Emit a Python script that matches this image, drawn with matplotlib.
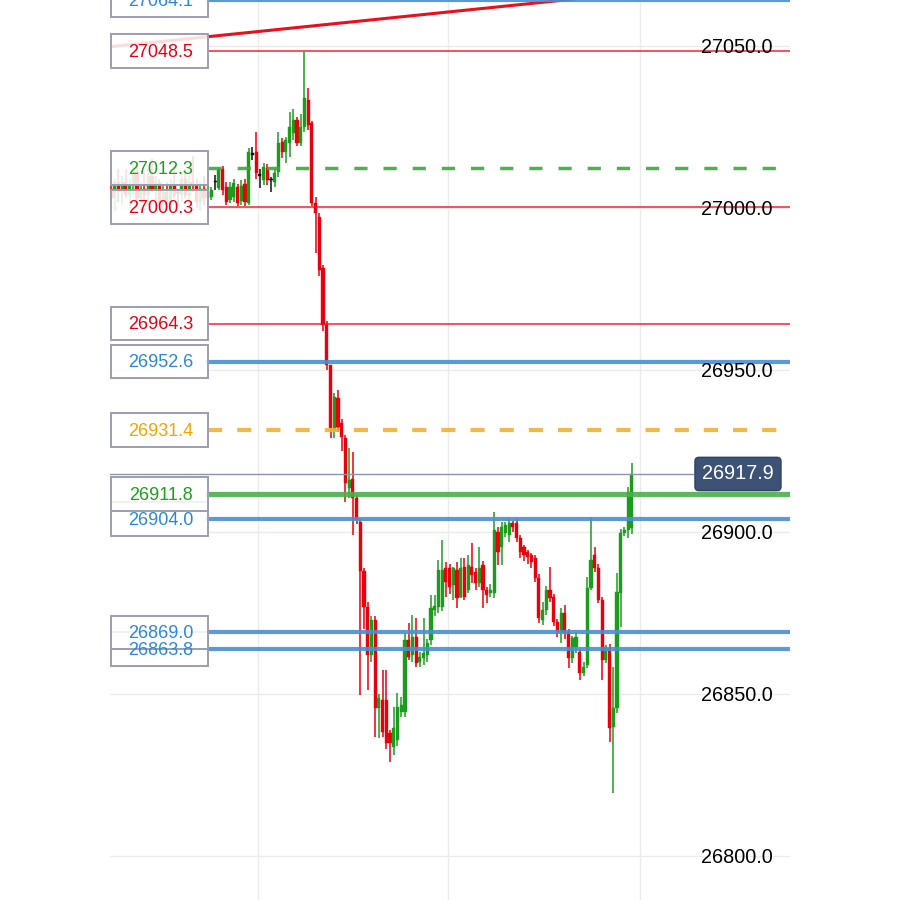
import matplotlib
matplotlib.use('Agg')
import matplotlib.pyplot as plt
from matplotlib.patches import Rectangle

plt.rcParams['font.family'] = ['Liberation Sans', 'DejaVu Sans']

# candles, oldest first
opens = [27006, 27003, 27008,
         27005, 27008, 27004, 27007, 27011, 27003, 27006, 27004, 27010, 27006, 27008, 27002,
         27005, 27001, 27007, 27004.5, 27004, 27009, 27004, 27008, 27007, 27002, 27006, 27003,
         27003.4, 27008.0, 27006.2, 27012.0, 27006.5, 27002.5, 27003.4, 27006.5, 27002.2, 27007.4,
         27001.6, 27016.5, 27017.3, 27010.0, 27008.6, 27012.4, 27008.5, 27008.0, 27011.1, 27020.4,
         27017.3, 27020.1, 27023.2, 27027.2, 27020.1, 27025.0, 27033.3, 27026.2, 27001.6, 26997.2,
         26981.5, 26964.0, 26951.6, 26931.5, 26941.4, 26933.7, 26929.0, 26913.6, 26916.4, 26910.5,
         26903.1, 26888.0,
         26876.9, 26862.1, 26872.9, 26845.7, 26848.2, 26848.2, 26838.0, 26833.7, 26835.8, 26844.5,
         26844.5, 26866.7, 26862.1, 26867.6, 26859.9, 26861.1, 26862.1, 26866.7, 26876.0,
         26876.9, 26876.9, 26888.9, 26888.9, 26883.7, 26888.3, 26880.0, 26889.2, 26882.1, 26889.2,
         26887.7, 26884.3, 26889.8, 26882.1, 26881.2, 26881.2, 26900.0, 26895.4, 26899.7, 26899.1,
         26902.8, 26902.8, 26898.2, 26895.4, 26893.8, 26892.9, 26892.0, 26885.8, 26872.9,
         26876.0, 26882.1, 26879.9, 26872.3, 26869.2, 26875.0, 26869.2, 26861.1, 26864.5, 26863.0,
         26856.5, 26859.0, 26882.7, 26892.9, 26888.9, 26879.0, 26860.5, 26864.2, 26839.8, 26845.7,
         26881.2, 26899.7, 26900.6, 26901.3]
highs = [27011, 27009, 27012,
         27010, 27012, 27009, 27014, 27013, 27008, 27011, 27012, 27015, 27010, 27009, 27007,
         27008, 27009, 27013, 27006, 27011, 27012, 27010, 27016, 27009, 27008, 27010, 27007,
         27006.5, 27010.2, 27012.4, 27013.0, 27008.0, 27008.0, 27009.0, 27007.5, 27008.5, 27009.0,
         27018.5, 27018.8, 27023.5, 27012.0, 27014.0, 27013.5, 27009.5, 27012.0, 27023.5, 27021.5,
         27022.0, 27029.6, 27030.5, 27028.0, 27029.0, 27048.2, 27037.0, 27027.0, 27003.4, 26998.5,
         26982.5, 26965.0, 26951.6, 26942.9, 26943.8, 26935.0, 26930.0, 26926.0, 26924.7, 26911.5,
         26904.0, 26889.0,
         26878.4, 26874.0, 26874.0, 26850.0, 26857.4, 26857.4, 26839.0, 26846.0, 26850.3, 26849.0,
         26868.9, 26871.9, 26874.4, 26873.5, 26863.0, 26873.5, 26867.0, 26880.6, 26880.6,
         26891.4, 26897.6, 26890.8, 26890.0, 26889.2, 26890.8, 26892.0, 26892.0, 26892.9, 26896.6,
         26889.0, 26895.4, 26891.0, 26883.0, 26884.0, 26906.2, 26901.6, 26903.0, 26903.0, 26904.0,
         26903.5, 26904.0, 26899.0, 26896.0, 26894.5, 26893.5, 26893.0, 26887.0, 26878.4,
         26883.4, 26889.2, 26881.0, 26873.0, 26876.6, 26877.5, 26870.0, 26868.0, 26869.0, 26864.0,
         26860.0, 26886.1, 26904.7, 26895.4, 26890.0, 26880.0, 26865.2, 26865.5, 26858.4, 26887.4,
         26901.0, 26901.6, 26914.0, 26921.3]
lows = [27001, 26999, 27002,
        27001, 27003, 27000, 27004, 27002, 26999, 27002, 27001, 27005, 27002, 27001, 26998,
        27000, 26999, 27003, 27001, 27002, 27003, 27001, 27005, 27000, 26999, 27001, 26998,
        27002.5, 27005.6, 27005.6, 27004.0, 27000.8, 27001.5, 27002.0, 27000.5, 27001.0, 27000.5,
        27000.8, 27014.8, 27009.0, 27006.2, 27007.0, 27007.0, 27004.9, 27006.5, 27009.5, 27015.5,
        27014.0, 27015.8, 27021.0, 27019.0, 27019.0, 27023.5, 27024.0, 27000.5, 26986.1, 26979.0,
        26962.0, 26950.0, 26929.0, 26929.0, 26931.0, 26925.0, 26909.3, 26910.5, 26899.1, 26902.5,
        26849.7, 26870.0,
        26851.3, 26860.0, 26836.8, 26836.5, 26836.8, 26833.0, 26829.0, 26831.2, 26834.0, 26843.0,
        26843.0, 26860.5, 26860.0, 26858.4, 26858.4, 26859.0, 26860.0, 26865.0, 26874.0,
        26875.0, 26875.5, 26880.0, 26881.0, 26879.0, 26876.6, 26879.7, 26879.0, 26881.2, 26884.3,
        26882.0, 26883.0, 26876.6, 26878.0, 26880.0, 26879.5, 26889.8, 26889.8, 26898.5, 26896.9,
        26900.0, 26897.0, 26892.0, 26891.0, 26890.0, 26889.0, 26884.5, 26872.0, 26871.3,
        26874.5, 26878.5, 26871.0, 26867.6, 26865.8, 26867.0, 26858.1, 26859.6, 26862.5, 26854.4,
        26855.5, 26858.0, 26882.1, 26887.5, 26878.0, 26854.4, 26859.5, 26835.2, 26819.5, 26844.0,
        26870.7, 26898.8, 26898.0, 26899.5]
closes = [27003, 27008, 27005,
          27008, 27004, 27007, 27011, 27003, 27006, 27004, 27010, 27006, 27008, 27002, 27005,
          27001, 27007, 27004, 27004.5, 27009, 27004, 27008, 27007, 27002, 27006, 27003, 27005,
          27005.6, 27008.0, 27011.7, 27005.6, 27001.9, 27006.5, 27007.7, 27001.6, 27006.8, 27001.9,
          27017.3, 27016.5, 27010.8, 27010.0, 27012.7, 27008.6, 27008.5, 27010.8, 27020.1, 27017.3,
          27021.0, 27025.0, 27027.2, 27020.1, 27025.0, 27034.0, 27025.6, 27001.6, 26998.5, 26980.9,
          26964.0, 26951.6, 26932.1, 26941.7, 26932.4, 26929.3, 26915.1, 26916.1, 26910.5, 26903.7,
          26888.0, 26876.9,
          26862.1, 26872.9, 26845.7, 26848.8, 26838.3, 26834.9, 26834.9, 26839.5, 26846.0, 26846.6,
          26866.7, 26861.4, 26867.6, 26859.6, 26861.4, 26862.7, 26865.8, 26876.6, 26877.2,
          26888.3, 26888.3, 26884.6, 26883.0, 26888.9, 26879.7, 26888.9, 26880.0, 26889.8, 26886.8,
          26884.3, 26888.9, 26882.1, 26880.6, 26882.1, 26900.6, 26893.8, 26901.6, 26902.2, 26902.8,
          26901.6, 26898.2, 26893.8, 26892.9, 26892.3, 26890.8, 26885.8, 26873.5, 26876.0,
          26882.1, 26879.7, 26872.3, 26869.2, 26875.0, 26868.9, 26861.1, 26867.3, 26867.6, 26856.5,
          26858.4, 26882.7, 26891.4, 26888.9, 26879.0, 26860.5, 26864.5, 26839.5, 26845.7, 26881.5,
          26899.7, 26900.6, 26912.4, 26917.9]

# horizontal levels
levels = [26863.8, 26869.0, 26904.0, 26911.8, 26931.4, 26952.6, 26964.3, 27000.3, 27012.3, 27048.5, 27064.1]
level_kind = ['blue', 'blue', 'blue', 'green', 'orange', 'blue', 'red', 'red', 'gdash', 'red', 'blue']

trend_x = [0, 133]
trend_y = [27049.8, 27065.5]

last_price = 26917.9
price_ticks = [26800, 26850, 26900, 26950, 27000, 27050]
time_grid = [39.5, 90.6, 142.2]

styles = {
    'blue':   dict(color='#4a8fd3', lw=3.0, ls='-', txt='#2a88dc'),
    'green':  dict(color='#4cae4c', lw=3.8, ls='-', txt='#1f9e1f'),
    'red':    dict(color='#e8101a', lw=1.1, ls='-', txt='#e60012'),
    'gdash':  dict(color='#3ea63e', lw=2.5, ls=(0, (3.8, 4.6)), txt='#1f9e1f'),
    'orange': dict(color='#f2b133', lw=3.0, ls=(0, (3.4, 3.6)), txt='#f5a300'),
}

fig = plt.figure(figsize=(9, 9), dpi=100)
ax = fig.add_axes([110 / 900, 0, 680 / 900, 1])
ax.set_xlim(-0.27, 182.5)
ax.set_ylim(26786.4, 27064.2)
ax.axis('off')

# grid
for t in price_ticks:
    ax.axhline(t, color='#ebebeb', lw=1, zorder=0)
for gx in time_grid:
    ax.axvline(gx, color='#ebebeb', lw=1, zorder=0)

# candles
xs = list(range(len(opens)))
cols = []
for o, c in zip(opens, closes):
    if c > o:
        cols.append('#1c9c1c')
    elif c < o:
        cols.append('#e8000b')
    else:
        cols.append('#111111')
ax.vlines(xs, lows, highs, colors=cols, lw=1.1, zorder=2)
bottoms = [min(o, c) for o, c in zip(opens, closes)]
heights = [max(abs(c - o), 0.4) for o, c in zip(opens, closes)]
ax.bar(xs, heights, bottom=bottoms, width=0.85, color=cols, edgecolor=cols, lw=0.3, zorder=2)

# trend line
ax.plot(trend_x, trend_y, color='#e8101a', lw=2.2, zorder=3, solid_capstyle='butt')

# level lines
box_w = 98 / 680
for v, k in zip(levels, level_kind):
    st = styles[k]
    ax.axhline(v, xmin=box_w, xmax=1, color=st['color'], lw=st['lw'], ls=st['ls'],
               alpha=0.9, zorder=3)

# last price line
ax.axhline(last_price, xmin=0, xmax=(693 - 110) / 680, color='#8d93a8', lw=1, zorder=3)

# label boxes on the left
ytr = ax.get_yaxis_transform()
for v, k in zip(levels, level_kind):
    st = styles[k]
    ax.add_patch(Rectangle((0.002, v - 5.2), box_w - 0.002, 10.4, transform=ytr,
                           facecolor=(1, 1, 1, 0.86), edgecolor='#9c9db0', lw=1.4, zorder=5))
    ax.text(box_w / 2 + 0.003, v - 0.4, f'{v:.1f}', transform=ytr, ha='center', va='center',
            fontsize=13, color=st['txt'], zorder=6)

# price scale labels
for t in price_ticks:
    ax.text(0.974, t - 0.5, f'{t:.1f}', transform=ytr, ha='right', va='center',
            fontsize=14.3, color='black', zorder=6)

# last price tag
ax.text(0.9235, last_price, f'{last_price:.1f}', transform=ytr, ha='center', va='center',
        fontsize=14.3, color='white', zorder=7,
        bbox=dict(boxstyle='round,pad=0.36,rounding_size=0.2', fc='#3d5375', ec='#2f4262', lw=1))

plt.savefig('out.png', dpi=100)
